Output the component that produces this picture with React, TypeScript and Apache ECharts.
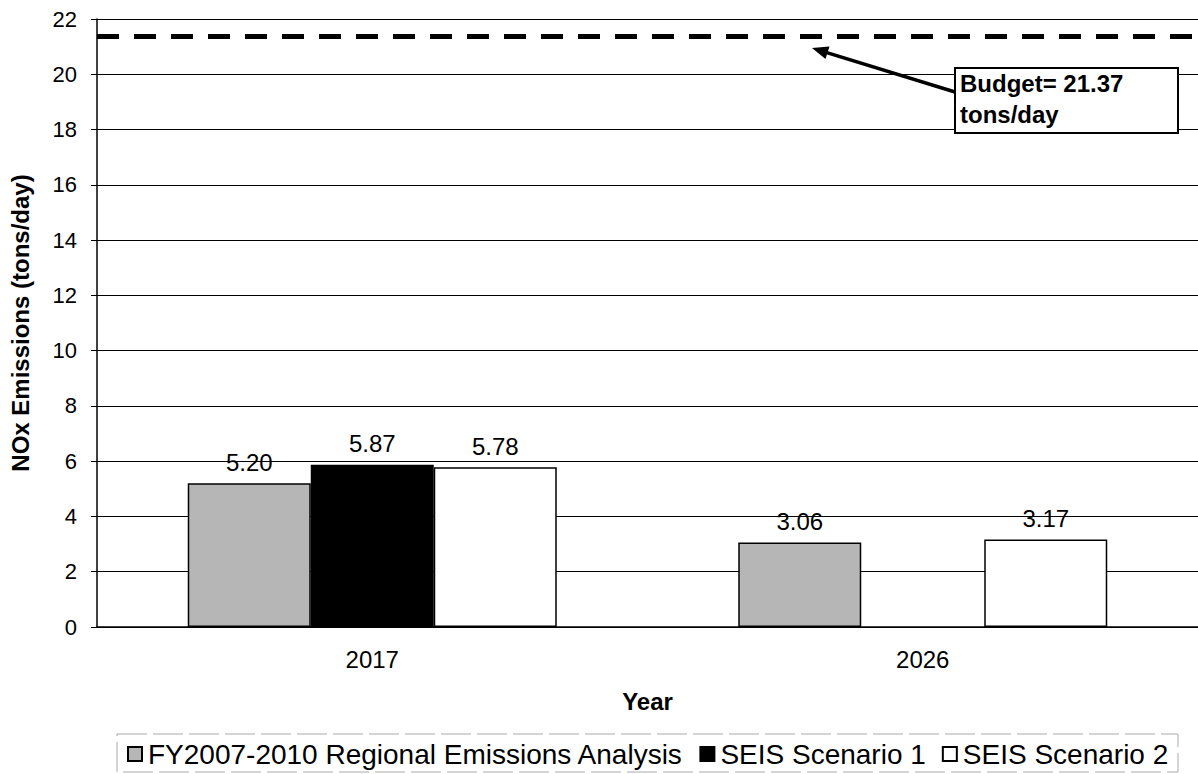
import React, { useEffect, useRef } from "react";
import * as echarts from "echarts";

const categories = ["2017", "2026"];
const seriesNames = [
  "FY2007-2010 Regional Emissions Analysis",
  "SEIS Scenario 1",
  "SEIS Scenario 2",
];
const regionalValues = [5.2, 3.06];
const scenario1Values: (number | null)[] = [5.87, null];
const scenario2Values = [5.78, 3.17];
const budget = 21.37;
const yTicks = { min: 0, max: 22, interval: 2 };

const FONT = "'Liberation Sans', Arial, Helvetica, sans-serif";

export default function App() {
  const ref = useRef<HTMLDivElement>(null);
  useEffect(() => {
    if (!ref.current) return;
    const chart = echarts.init(ref.current, null, { renderer: "svg" });
    const label = {
      show: true,
      position: "top" as const,
      distance: 9,
      color: "#000",
      fontFamily: FONT,
      fontSize: 24,
      formatter: (p: any) => (p.value == null ? "" : Number(p.value).toFixed(2)),
    };
    const colors = ["#b6b6b6", "#000000", "#ffffff"];
    const datas = [regionalValues, scenario1Values, scenario2Values];
    chart.setOption({
      animation: false,
      backgroundColor: "#ffffff",
      textStyle: { fontFamily: FONT, color: "#000" },
      grid: { left: 92, top: 19, width: 1112, height: 608, containLabel: false },
      legend: {
        left: 127,
        top: 740,
        padding: 0,
        itemWidth: 14,
        itemHeight: 14,
        itemGap: 16,
        icon: "rect",
        textStyle: { fontFamily: FONT, fontSize: 28, color: "#000", padding: [0, 0, 0, 1] },
        data: seriesNames,
      },
      xAxis: {
        type: "category",
        data: categories,
        name: "Year",
        nameLocation: "middle",
        nameGap: 62,
        nameTextStyle: { fontFamily: FONT, fontSize: 24, fontWeight: "bold", color: "#000" },
        axisLine: { show: true, lineStyle: { color: "#000", width: 1.5 } },
        axisTick: { show: false },
        axisLabel: { fontFamily: FONT, fontSize: 24, color: "#000", margin: 20 },
        splitLine: { show: false },
      },
      yAxis: {
        type: "value",
        min: yTicks.min,
        max: yTicks.max,
        interval: yTicks.interval,
        name: "NOx Emissions (tons/day)",
        nameLocation: "middle",
        nameGap: 65,
        nameTextStyle: { fontFamily: FONT, fontSize: 24, fontWeight: "bold", color: "#000" },
        axisLine: { show: true, lineStyle: { color: "#000", width: 1.5 } },
        axisTick: { show: true, length: 6, lineStyle: { color: "#000" } },
        axisLabel: { fontFamily: FONT, fontSize: 22, color: "#000", margin: 20 },
        splitLine: { show: true, lineStyle: { color: "#000", width: 1 } },
      },
      series: seriesNames.map((name, i) => ({
        name,
        type: "bar",
        data: datas[i],
        barWidth: 123,
        barGap: "0%",
        itemStyle: { color: colors[i], borderColor: "#000", borderWidth: 1.5 },
        label,
        markLine:
          i === 0
            ? {
                silent: true,
                symbol: ["none", "none"],
                label: { show: false },
                lineStyle: { color: "#000", width: 5, type: [22, 15] },
                data: [{ yAxis: budget }],
              }
            : undefined,
      })),
      graphic: [
        {
          type: "rect",
          shape: { x: 117, y: 734, width: 1061, height: 38 },
          style: { fill: "none", stroke: "#aaa", lineWidth: 1, lineDash: [30, 6] },
          silent: true,
        },
        {
          type: "line",
          shape: { x1: 955, y1: 92, x2: 826, y2: 52.4 },
          style: { stroke: "#000", lineWidth: 3.5 },
          z: 100,
        },
        {
          type: "polygon",
          shape: { points: [[812, 48], [829.5, 46.5], [825.5, 59]] },
          style: { fill: "#000" },
          z: 100,
        },
        {
          type: "rect",
          shape: { x: 955, y: 68, width: 223, height: 65 },
          style: { fill: "#fff", stroke: "#000", lineWidth: 2 },
          z: 100,
        },
        {
          type: "text",
          x: 960,
          y: 68,
          style: {
            text: `Budget= ${budget}\ntons/day`,
            fontFamily: FONT,
            fontSize: 24,
            fontWeight: "bold",
            lineHeight: 31,
            fill: "#000",
          },
          z: 101,
        },
      ],
    });
    return () => chart.dispose();
  }, []);
  return (
    <div
      ref={ref}
      style={{ position: "absolute", left: 0, top: 0, width: 1198, height: 774, background: "#fff" }}
    />
  );
}
